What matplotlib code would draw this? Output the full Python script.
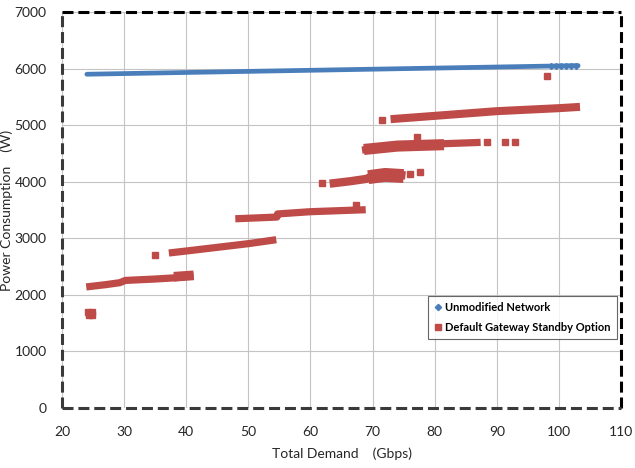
import matplotlib
matplotlib.use("Agg")
import matplotlib.pyplot as plt
from matplotlib.lines import Line2D

# ---- data ----
blue_x = [24.0, 103.1]
blue_y = [5900, 6053]
blue_tail_x = [98.8, 99.6, 100.4, 101.2, 102.0, 102.8]
blue_tail_y = [6045, 6046, 6048, 6049, 6051, 6052]

red_b1_x = [23.9, 27.0, 29.3, 30.2, 35.0, 38.0, 41.2]
red_b1_y = [2140, 2180, 2215, 2255, 2280, 2300, 2335]
red_b1s_x = [38.0, 41.2]
red_b1s_y = [2320, 2345]

red_b2_x = [37.2, 40.0, 45.0, 50.0, 54.5]
red_b2_y = [2740, 2775, 2840, 2905, 2975]

red_b3_x = [47.9, 54.6, 54.7, 60.0, 68.9]
red_b3_y = [3345, 3375, 3430, 3470, 3505]

red_b4_x = [63.1, 66.5, 69.0, 70.2, 73.0, 75.3]
red_b4_y = [3965, 4010, 4050, 4110, 4140, 4110]
red_b4s_x = [69.3, 72.0, 75.0]
red_b4s_y = [4080, 4120, 4100]

red_b5_x = [68.3, 73.4, 79.7, 87.4]
red_b5_y = [4559, 4635, 4665, 4695]
red_b5s_x = [68.6, 74.0, 81.5]
red_b5s_y = [4570, 4630, 4655]

red_b6_x = [72.9, 80.0, 90.0, 100.0, 103.4]
red_b6_y = [5106, 5164, 5247, 5300, 5323]

red_pts_x = [24.2, 24.8, 24.3, 24.8, 35.0, 61.9, 67.4, 71.6, 76.1, 77.7, 77.1, 88.4, 91.3, 92.9, 98.1]
red_pts_y = [1700, 1700, 1640, 1640, 2705, 3970, 3590, 5088, 4130, 4176, 4783, 4695, 4705, 4705, 5864]

series_names = ["Unmodified Network", "Default Gateway Standby Option"]
x_ticks = [20, 30, 40, 50, 60, 70, 80, 90, 100, 110]
y_ticks = [0, 1000, 2000, 3000, 4000, 5000, 6000, 7000]

BLUE = "#4a7ebb"
RED = "#be4b48"
FONT = "Lato"

fig = plt.figure(figsize=(6.35, 4.68), dpi=100)
ax = fig.add_axes([62 / 635, 60 / 468, 559 / 635, 396 / 468])

ax.set_xlim(20, 110)
ax.set_ylim(0, 7000)
ax.set_xticks(x_ticks)
ax.set_yticks(y_ticks)
ax.grid(True, color="#c4c4c4", linewidth=0.8)
ax.set_axisbelow(True)
ax.tick_params(length=0, labelsize=10, colors="#262626")
ax.tick_params(axis="y", pad=11)
ax.tick_params(axis="x", pad=13)
for lab in ax.get_xticklabels() + ax.get_yticklabels():
    lab.set_fontfamily(FONT)

# blue series
ax.plot(blue_x, blue_y, color=BLUE, lw=3.4, solid_capstyle="round", zorder=3)
ax.plot(blue_tail_x, blue_tail_y, ls="none", marker="D", ms=3.0, color=BLUE,
        mec=BLUE, zorder=3)

# red series bands
for bx, by, w in [(red_b1_x, red_b1_y, 5.2), (red_b1s_x, red_b1s_y, 7.0),
                  (red_b2_x, red_b2_y, 5.2), (red_b3_x, red_b3_y, 5.2),
                  (red_b4_x, red_b4_y, 6.0), (red_b4s_x, red_b4s_y, 10.0),
                  (red_b5_x, red_b5_y, 5.2), (red_b5s_x, red_b5s_y, 8.0),
                  (red_b6_x, red_b6_y, 5.8)]:
    ax.plot(bx, by, color=RED, lw=w, solid_capstyle="butt",
            solid_joinstyle="round", zorder=4)
ax.plot(red_pts_x, red_pts_y, ls="none", marker="s", ms=4.5, color=RED,
        mec=RED, zorder=4)

# frame
for name, sp in ax.spines.items():
    sp.set_linewidth(2.2)
    sp.set_capstyle("butt")
    sp.set_linestyle((0, (3.6, 1.6)))
    sp.set_color("black" if name in ("top", "right") else "#3a3a3a")

ax.set_xlabel("Total Demand    (Gbps)", fontsize=10, family=FONT, color="#262626")
ax.set_ylabel("Power Consumption    (W)", fontsize=10, family=FONT, color="#262626")
ax.xaxis.set_label_coords(0.5, -0.1)
ax.yaxis.set_label_coords(-0.087, 0.5)

handles = [
    Line2D([], [], ls="none", marker="D", ms=3.2, color=BLUE, mec=BLUE),
    Line2D([], [], ls="none", marker="s", ms=5, color=RED, mec=RED),
]
leg = ax.legend(handles, series_names, loc="upper right",
                bbox_to_anchor=(0.993, 0.284), frameon=True, fancybox=False,
                prop={"family": FONT, "weight": "bold", "size": 8.0},
                handlelength=0.6, handletextpad=0.4, borderpad=0.55,
                labelspacing=0.8, borderaxespad=0)
leg.get_frame().set_edgecolor("#404040")
leg.get_frame().set_linewidth(0.8)

fig.savefig("out.png", dpi=100, facecolor="white")
